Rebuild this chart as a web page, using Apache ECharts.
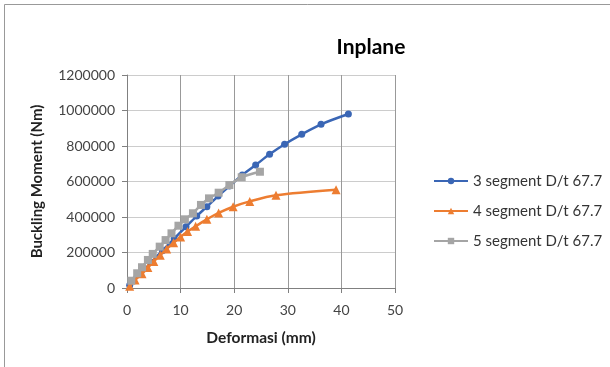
<!DOCTYPE html>
<html><head><meta charset="utf-8">
<script src="https://cdn.jsdelivr.net/npm/echarts@6/dist/echarts.min.js"></script>
<style>html,body{margin:0;padding:0;background:#fff}#c{width:610px;height:367px}</style>
</head><body><div id="c"></div>
<script>
const seriesNames = ['3 segment D/t 67.7', '4 segment D/t 67.7', '5 segment D/t 67.7'];
const seg3X = [0.5, 2.5, 4.5, 6.6, 8.8, 11.0, 13.0, 14.9, 17.0, 19.1, 21.5, 24.0, 26.6, 29.4, 32.6, 36.2, 41.3];
const seg3Y = [15000, 80000, 145000, 210000, 278000, 345000, 405000, 458000, 518000, 574000, 637000, 693000, 753000, 810000, 866000, 922000, 980000];
const seg4X = [0.5, 1.5, 2.8, 3.9, 5.0, 6.2, 7.4, 8.7, 10.0, 11.3, 12.8, 14.9, 17.1, 19.8, 22.9, 27.8, 39.0];
const seg4Y = [10000, 45000, 80000, 115000, 150000, 185000, 220000, 255000, 288000, 318000, 348000, 387000, 423000, 458000, 488000, 522000, 553000];
const seg5X = [0.8, 1.9, 2.8, 3.9, 4.8, 6.1, 7.2, 8.3, 9.6, 10.8, 12.3, 13.8, 15.3, 17.1, 19.1, 21.4, 24.8];
const seg5Y = [41000, 83000, 117000, 158000, 192000, 233000, 270000, 308000, 351000, 387000, 421000, 468000, 505000, 537000, 580000, 624000, 655000];
const titleText = 'Inplane';
const xName = 'Deformasi (mm)';
const yName = 'Buckling Moment (Nm)';

const zip = (xs, ys) => xs.map((x, i) => [x, ys[i]]);
const font = 'Lato, "Open Sans", sans-serif';
const colors = ['#3A66B5', '#ED7D31', '#A5A5A5'];
const symbols = ['circle', 'triangle', 'rect'];
const sizes = [7, 9, 8];
const datas = [zip(seg3X, seg3Y), zip(seg4X, seg4Y), zip(seg5X, seg5Y)];

const chart = echarts.init(document.getElementById('c'));
chart.setOption({
  animation: false,
  backgroundColor: '#fff',
  graphic: [
    { type: 'polyline', shape: { points: [[4.5, 367], [4.5, 4.5], [610, 4.5]] }, style: { stroke: '#999', lineWidth: 1, fill: null }, silent: true }
  ],
  title: { text: titleText, left: 366, top: 32, textAlign: 'center',
    textStyle: { fontFamily: font, fontWeight: 'bold', fontSize: 21, color: '#000' } },
  legend: {
    orient: 'vertical', left: 428, top: 167, itemGap: 12, itemWidth: 34, itemHeight: 8,
    textStyle: { fontFamily: font, fontSize: 15, color: '#333', lineHeight: 18 },
    data: seriesNames
  },
  grid: { left: 127, right: 215, top: 75, bottom: 79 },
  xAxis: {
    type: 'value', min: 0, max: 50, interval: 10,
    name: xName, nameLocation: 'middle', nameGap: 42,
    nameTextStyle: { fontFamily: font, fontWeight: 'bold', fontSize: 15.5, color: '#222' },
    axisLine: { show: true, lineStyle: { color: '#808080' } },
    axisTick: { show: true, length: 5, lineStyle: { color: '#808080' } },
    axisLabel: { fontFamily: font, fontSize: 14, color: '#444', margin: 15 },
    splitLine: { show: true, lineStyle: { color: '#999' } }
  },
  yAxis: {
    type: 'value', min: 0, max: 1200000, interval: 200000,
    name: yName, nameLocation: 'middle', nameGap: 82, nameRotate: 90,
    nameTextStyle: { fontFamily: font, fontWeight: 'bold', fontSize: 15, color: '#222' },
    axisLine: { show: true, lineStyle: { color: '#808080' } },
    axisTick: { show: true, length: 5, lineStyle: { color: '#808080' } },
    axisLabel: { fontFamily: font, fontSize: 14, color: '#444', margin: 12, formatter: v => String(v) },
    splitLine: { show: true, lineStyle: { color: '#ccc' } }
  },
  series: seriesNames.map((n, i) => ({
    name: n, type: 'line', data: datas[i], smooth: 0.3,
    symbol: symbols[i], symbolSize: sizes[i], showAllSymbol: true,
    lineStyle: { color: colors[i], width: 2.5 },
    itemStyle: { color: colors[i] },
    z: 2 + i
  }))
});
</script></body></html>
